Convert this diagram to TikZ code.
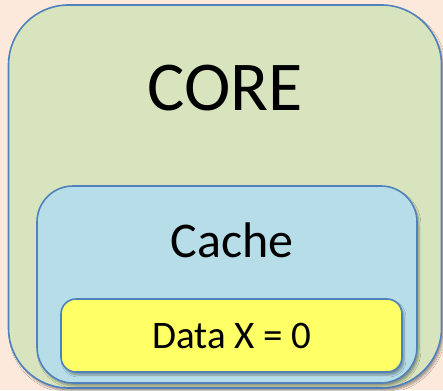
\documentclass[tikz,border=0pt]{standalone}
\usepackage{fontspec}
\setmainfont{Carlito}
\usetikzlibrary{shadows.blur}
\definecolor{bgpeach}{HTML}{FDE9DB}
\definecolor{coregreen}{HTML}{D7E4BD}
\definecolor{cacheblue}{HTML}{B7DEE8}
\definecolor{datayellow}{HTML}{FFFF66}
\definecolor{edgeblue}{HTML}{4F81BD}
\tikzset{
  box/.style={draw=edgeblue, line width=1.6pt, inner sep=0pt,
    blur shadow={shadow xshift=2pt, shadow yshift=-3pt, shadow blur steps=6, shadow opacity=35}},
  lbl/.style={inner sep=0pt, anchor=base, text=black}
}
\begin{document}
\begin{tikzpicture}[x=1pt,y=-1pt]
\fill[bgpeach] (0,0) rectangle (443,390);
\useasboundingbox (0,0) rectangle (443,390);
\node[box, fill=coregreen, minimum width=433pt, minimum height=383pt, rounded corners=60pt] (core) at (225,196.5) {};
\node[box, fill=cacheblue, minimum width=380pt, minimum height=197pt, rounded corners=36pt] (cache) at (227,284.5) {};
\node[box, fill=datayellow, minimum width=341pt, minimum height=73pt, rounded corners=15pt] (data) at (231.5,335.5) {};
\node[lbl, font=\fontsize{70}{70}\selectfont] (corelbl) at (225,111) {CORE};
\node[lbl, font=\fontsize{50}{50}\selectfont] (cachelbl) at (232,257) {Cache};
\node[lbl, font=\fontsize{39}{39}\selectfont] (datalbl) at (232,348) {Data X = 0};
\end{tikzpicture}
\end{document}
